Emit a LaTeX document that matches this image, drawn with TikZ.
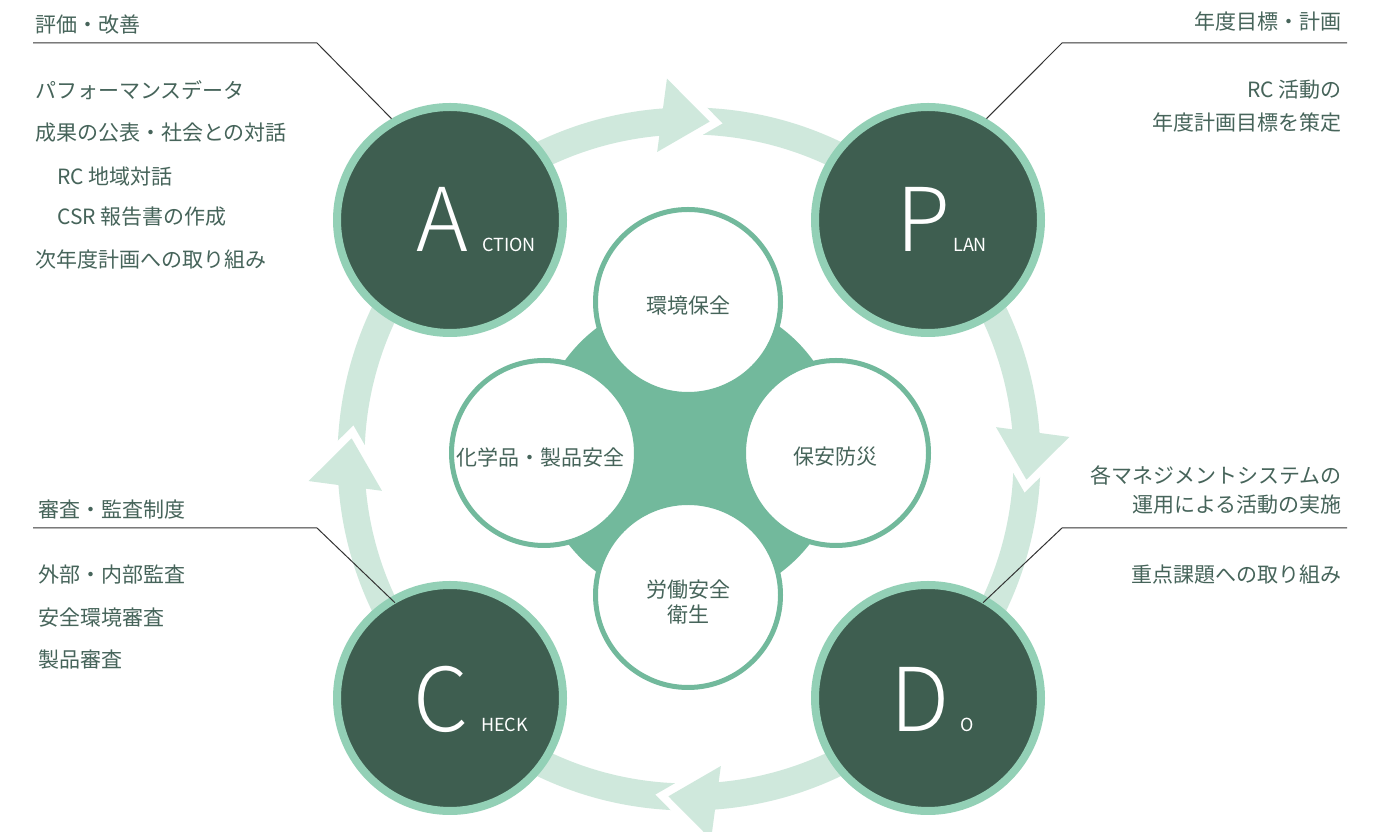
\documentclass[tikz,border=0pt]{standalone}
\usepackage{fontspec}
\setmainfont{Noto Sans CJK JP}
\newfontfamily\lightf{Noto Sans CJK JP Light}
\usetikzlibrary{calc}
\definecolor{darkc}{HTML}{3E5E50}
\definecolor{ringc}{HTML}{93D0B6}
\definecolor{bandc}{HTML}{CFE8DC}
\definecolor{midc}{HTML}{72B99C}
\definecolor{txtc}{HTML}{46645A}
\begin{document}
\begin{tikzpicture}[x=1pt,y=1pt,
  bigc/.style={circle,fill=darkc,draw=ringc,line width=8pt,minimum size=226pt,inner sep=0pt},
  smallc/.style={circle,fill=white,draw=midc,line width=5pt,minimum size=185pt,inner sep=0pt},
  lbl/.style={text=txtc,font=\fontsize{21}{25}\selectfont,inner sep=0pt},
  lblw/.style={lbl,anchor=west},
  lble/.style={lbl,anchor=east},
  bigl/.style={text=white,font=\lightf\fontsize{88}{90}\selectfont,inner sep=0pt,anchor=base west},
  subl/.style={text=white,font=\fontsize{18}{22}\selectfont,inner sep=0pt,anchor=base west},
  leader/.style={draw=black!80,line width=1pt}]
\useasboundingbox (0,0) rectangle (1374,832);
\fill[white] (0,0) rectangle (1374,832);
\coordinate (O) at (689,373);
% ring band
\draw[bandc,line width=27pt] (O) circle[radius=338];
% arrowheads
\foreach \t in {86.5,-3.5,-93.5,176.5}{
  \begin{scope}[shift={($(O)+(\t:338)$)},rotate=\t-94.1]
    \fill[white] (13,0) -- (-35,37) -- (-35,-37) -- cycle;
    \fill[bandc] (0,0) -- (-48,37) -- (-48,-37) -- cycle;
  \end{scope}
}
% big circles
\node[bigc] (A) at (450,612) {};
\node[bigc] (P) at (928,612) {};
\node[bigc] (C) at (450,134) {};
\node[bigc] (D) at (928,134) {};
\node[bigl] (Al) at (416,580) {A};
\node[subl] (As) at (482,580) {CTION};
\node[bigl] (Pl) at (896,580) {P};
\node[subl] (Ps) at (953,580) {LAN};
\node[bigl] (Cl) at (413,100) {C};
\node[subl] (Cs) at (481,100) {HECK};
\node[bigl] (Dl) at (890,100) {D};
\node[subl] (Ds) at (960,100) {O};
% leaders
\coordinate (la1) at (33,789); \coordinate (la2) at (317,789);
\draw[leader] (la1) -- (la2) -- (A.120);
\coordinate (lp1) at (1347,789); \coordinate (lp2) at (1062,789);
\draw[leader] (lp1) -- (lp2) -- (P.60);
\coordinate (lc1) at (33,304); \coordinate (lc2) at (317,304);
\coordinate (lc3) at ($(C)+(120:110)$);
\draw[leader] (lc1) -- (lc2) -- (lc3);
\coordinate (ld1) at (1347,304); \coordinate (ld2) at (1062,304);
\coordinate (ld3) at ($(D)+(60:110)$);
\draw[leader] (ld1) -- (ld2) -- (ld3);
% central cluster
\fill[midc] (689,382) circle[radius=153];
\node[smallc] (s1) at (688,530) {};
\node[smallc] (s2) at (836,379) {};
\node[smallc] (s3) at (688,237) {};
\node[smallc] (s4) at (544,379) {};
\node[lbl] (t1) at (688,526) {環境保全};
\node[lbl] (t2) at (835,375) {保安防災};
\node[lbl] (t3a) at (688,242) {労働安全};
\node[lbl] (t3b) at (688,217) {衛生};
\node[lbl] (t4) at (540,375) {化学品・製品安全};
% left top
\node[lblw] (a0) at (35,807) {評価・改善};
\node[lblw] (a1) at (35,742) {パフォーマンスデータ};
\node[lblw] (a2) at (35,699) {成果の公表・社会との対話};
\node[lblw] (a3) at (57,655) {RC 地域対話};
\node[lblw] (a4) at (57,615) {CSR 報告書の作成};
\node[lblw] (a5) at (35,572) {次年度計画への取り組み};
% right top
\node[lble] (p0) at (1342,810) {年度目標・計画};
\node[lble] (p1) at (1342,742) {RC 活動の};
\node[lble] (p2) at (1342,709) {年度計画目標を策定};
% right bottom
\node[lble] (d0) at (1342,357) {各マネジメントシステムの};
\node[lble] (d1) at (1342,327) {運用による活動の実施};
\node[lble] (d2) at (1342,257) {重点課題への取り組み};
% left bottom
\node[lblw] (c0) at (38,322) {審査・監査制度};
\node[lblw] (c1) at (38,257) {外部・内部監査};
\node[lblw] (c2) at (38,214) {安全環境審査};
\node[lblw] (c3) at (38,172) {製品審査};
\end{tikzpicture}
\end{document}
